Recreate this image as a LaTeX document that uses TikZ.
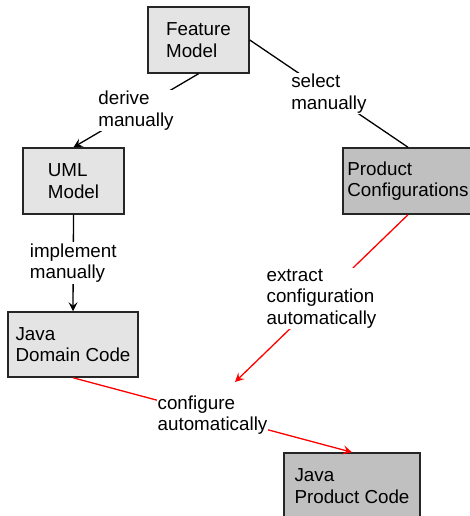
\documentclass[tikz,border=0pt]{standalone}
\usepackage{fontspec}
\setmainfont{Liberation Sans}
\usetikzlibrary{arrows.meta}
\definecolor{lightbox}{HTML}{E4E4E4}
\definecolor{darkbox}{HTML}{C0C0C0}
\definecolor{edgered}{HTML}{FF0000}
\begin{document}
\begin{tikzpicture}[x=1pt,y=-1pt,
  box/.style={draw=black!85,line width=1.5pt,align=left,inner sep=0pt,
    font=\fontsize{18.8}{21.5}\selectfont,minimum height=66pt},
  light/.style={box,fill=lightbox},
  dark/.style={box,fill=darkbox},
  lbl/.style={fill=white,text=black,align=left,inner sep=1pt,
    font=\fontsize{18.8}{21.5}\selectfont},
  conn/.style={line width=1.3pt,black},
  redconn/.style={line width=1.3pt,edgered},
  tip/.style={-{Stealth[length=9pt,width=9pt,inset=3.5pt]}}
]
\useasboundingbox (0,0) rectangle (470,516);
\clip (0,0) rectangle (470,516);
\node[light,minimum width=101pt] (fm) at (198.5,40) {Feature\\Model};
\node[light,minimum width=101pt] (uml) at (73.5,181) {UML\\Model};
\node[dark,minimum width=130pt] (pc) at (408,181) {Product\\Configurations};
\node[light,minimum width=130pt,minimum height=65pt] (jdc) at (73,344.5) {Java\\Domain Code};
\node[dark,minimum width=136pt] (jpc) at (352,486) {Java\\Product Code};
\coordinate (cfgpt) at (235,382);

\draw[conn,tip] (fm.south) -- node[lbl]{derive\\manually} (uml.north);
\draw[conn] (fm.east) -- node[lbl]{select\\manually} (pc.north);
\draw[conn,tip] (uml.south) -- node[lbl]{implement\\manually} (jdc.north);
\draw[redconn,tip] (pc.south) -- node[lbl]{extract\\configuration\\automatically} (cfgpt);
\draw[redconn,tip] (jdc.south) -- node[lbl]{configure\\automatically} (jpc.north);
\end{tikzpicture}
\end{document}
